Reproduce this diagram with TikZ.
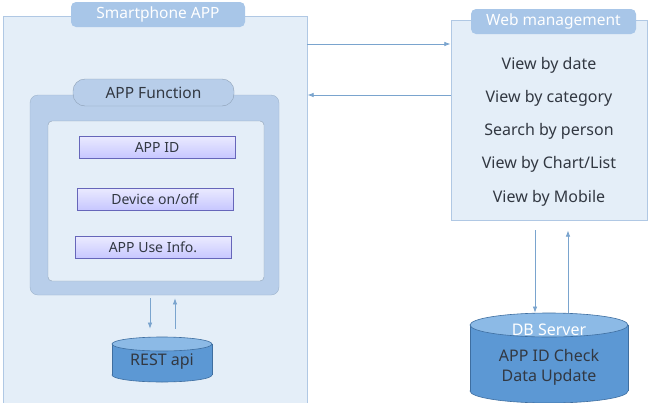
\documentclass[tikz,border=0pt]{standalone}
\usepackage{fontspec}
\setmainfont{Noto Sans}
\usepackage{tikz}
\usetikzlibrary{arrows.meta,calc}
\definecolor{panelblue}{RGB}{228,238,248}
\definecolor{edgeblue}{RGB}{176,200,228}
\definecolor{tabblue}{RGB}{168,198,232}
\definecolor{funcblue}{RGB}{184,206,234}
\definecolor{flowblue}{RGB}{122,164,206}
\definecolor{dbblue}{RGB}{92,152,212}
\definecolor{dbtop}{RGB}{140,186,230}
\definecolor{dbedge}{RGB}{62,110,160}
\definecolor{inkgray}{RGB}{50,56,66}

\begin{document}
\begin{tikzpicture}[x=1pt,y=-1pt,
		panel/.style={draw=edgeblue,fill=panelblue,line width=0.8pt},
		tab/.style={draw=none,fill=tabblue,rounded corners=5pt,text=white,font=\fontsize{15.5}{18}\selectfont},
		itembox/.style={draw=black!45!blue!60!white,top color=blue!8,bottom color=blue!22,minimum width=156,minimum height=22,text=inkgray,font=\fontsize{14}{16}\selectfont},
		cylbody/.style={fill=dbblue,draw=dbedge,line width=0.6pt},
		cyltop/.style={fill=dbtop,draw=dbedge,line width=0.6pt},
		flow/.style={-{Latex[length=2.2mm,width=1.6mm]},flowblue,line width=0.8pt}]
	\useasboundingbox (0,0) rectangle (651,402);
	
	% Smartphone side
	\node[panel,minimum width=304,minimum height=388] (phone) at (155,210) {};
	\node[tab,minimum width=174,minimum height=25] (phonetab) at (158,14.5) {Smartphone APP};
	\node[draw=edgeblue!90!black,fill=funcblue,rounded corners=8pt,minimum width=249,minimum height=200] (func) at (154.5,195) {};
	\node[draw=edgeblue!80!black,fill=panelblue,rounded corners=4pt,minimum width=216,minimum height=160] (funcin) at (156,201) {};
	\node[fill=funcblue,draw=edgeblue!80!black,rounded corners=12pt,minimum width=161,minimum height=27,text=inkgray,font=\fontsize{15.5}{18}\selectfont] (functab) at (153.5,92.5) {APP Function};
	\node[itembox] (appid) at (157,147) {APP ID};
	\node[itembox] (device) at (155,199) {Device on/off};
	\node[itembox] (useinfo) at (153,247.5) {APP Use Info.};
	
	% Web side
	\node[panel,minimum width=196,minimum height=200] (web) at (549,120) {};
	\node[tab,minimum width=165,minimum height=25] (webtab) at (553.5,21.5) {Web management};
	\foreach \txt [count=\i] in {View by date,View by category,Search by person,View by Chart/List,View by Mobile}
		\node[text=inkgray,font=\fontsize{16}{18}\selectfont] (view\i) at (549,32+\i*33.2) {\txt};
	
	% Cylinders: REST api and DB server
	\foreach \cx/\ty/\by/\rx/\ry in {162/344/375/50/7,549/325/391/79/12}{
		\filldraw[cylbody] (\cx,\by) ellipse [x radius=\rx,y radius=\ry];
		\fill[dbblue] (\cx-\rx,\ty) rectangle (\cx+\rx,\by);
		\draw[dbedge,line width=0.6pt] (\cx-\rx,\ty) -- (\cx-\rx,\by) (\cx+\rx,\ty) -- (\cx+\rx,\by);
		\filldraw[cyltop] (\cx,\ty) ellipse [x radius=\rx,y radius=\ry];
	}
	\node[minimum width=100,minimum height=45] (rest) at (162,359.5) {};
	\node[text=inkgray,font=\fontsize{16}{18}\selectfont] (restname) at (162,362) {REST api};
	\node[minimum width=158,minimum height=90] (db) at (549,358) {};
	\node[text=white,font=\fontsize{16}{18}\selectfont] (dbname) at (549,330) {DB Server};
	\node[text=inkgray,font=\fontsize{16}{20}\selectfont,align=center] (dbtask) at (549,367) {APP ID Check\\Data Update};
	
	% Connectors
	\draw[flow] (phone.east |- 0,44) -- (web.west |- 0,44);
	\draw[flow] (web.west |- 0,95) -- (phone.east |- 0,95);
	\draw[flow] (func.south -| 150,0) ++(0,3) -- ($(rest.north -| 150,0)+(0,-8)$);
	\draw[flow] ($(rest.north -| 175,0)+(0,-8)$) -- ($(func.south -| 175,0)+(0,3)$);
	\draw[flow] (web.south -| 535,0) ++(0,10) -- (db.north -| 535,0);
	\draw[flow] (db.north -| 568,0) -- ($(web.south -| 568,0)+(0,10)$);
\end{tikzpicture}
\end{document}
